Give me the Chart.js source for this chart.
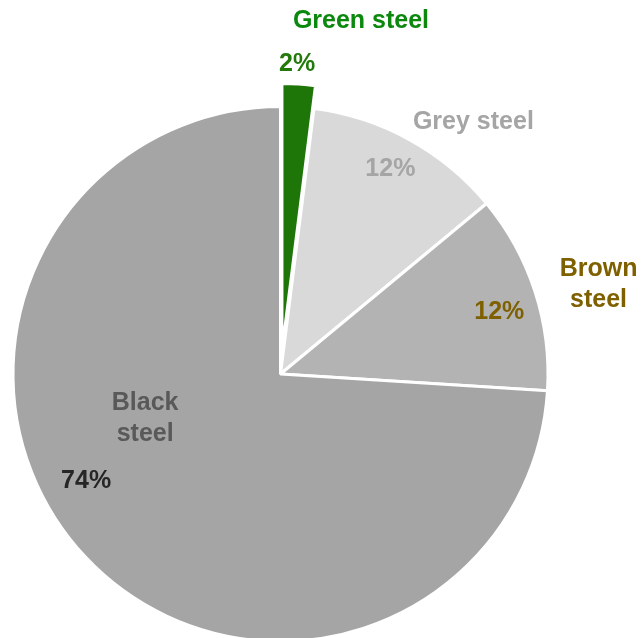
<!DOCTYPE html>
<html>
<head>
<meta charset="utf-8">
<title>Steel production by type</title>
<script src="https://cdn.jsdelivr.net/npm/chart.js@4/dist/chart.umd.min.js"></script>
<style>
  html, body { margin: 0; padding: 0; background: #fff; overflow: hidden; }
  #wrap { position: absolute; left: 0; top: 0; width: 642px; height: 748px; }
</style>
</head>
<body>
<div id="wrap"><canvas id="pie" width="642" height="748"></canvas></div>
<script>
// shares of steel output, clockwise from 12 o'clock
const categories = ['Green steel', 'Grey steel', 'Brown steel', 'Black steel'];
const shares = [2, 12, 12, 74];
const nameLines = [['Green steel'], ['Grey steel'], ['Brown', 'steel'], ['Black', 'steel']];

const sliceColors = ['#1f7608', '#d9d9d9', '#b3b3b3', '#a5a5a5'];
const nameColors = ['#0b880d', '#a5a5a5', '#7f6000', '#595959'];
const pctColors = ['#237a0b', '#a5a5a5', '#7f6000', '#262626'];

// pulled-out distance of each slice (px)
const explode = [23, 0, 0, 0];

// label placement: radius (px) and angle shift (deg) from the slice middle
const pctPos = [[289, -0.6], [234, -0.8], [228, 1.7], [221, 14.8]];
const namePos = [[341, 9.8], [319, 8.4], [331, 1.9], [142, 25.6]];

const FONT = 'bold 25px "Liberation Sans", Arial, sans-serif';
const LINE_H = 31;

const explodePlugin = {
  id: 'explodeSlices',
  beforeDatasetsDraw(chart) {
    const area = chart.chartArea;
    const cx = (area.left + area.right) / 2;
    const cy = (area.top + area.bottom) / 2;
    chart.getDatasetMeta(0).data.forEach((arc, i) => {
      const mid = (arc.startAngle + arc.endAngle) / 2;
      arc.x = cx + Math.cos(mid) * explode[i];
      arc.y = cy + Math.sin(mid) * explode[i];
    });
  }
};

const labelPlugin = {
  id: 'sliceLabels',
  afterDatasetsDraw(chart) {
    const ctx = chart.ctx;
    ctx.save();
    ctx.font = FONT;
    ctx.textAlign = 'center';
    ctx.textBaseline = 'alphabetic';
    const capShift = 9;
    chart.getDatasetMeta(0).data.forEach((arc, i) => {
      const mid = (arc.startAngle + arc.endAngle) / 2;
      const place = (p) => {
        const a = mid + p[1] * Math.PI / 180;
        return { x: arc.x + Math.cos(a) * p[0], y: arc.y + Math.sin(a) * p[0] };
      };
      // percentage
      const pp = place(pctPos[i]);
      ctx.fillStyle = pctColors[i];
      ctx.fillText(shares[i] + '%', pp.x, pp.y + capShift);
      // category name, possibly on two lines
      const np = place(namePos[i]);
      const lines = nameLines[i];
      const top = np.y - (lines.length - 1) * LINE_H / 2;
      ctx.fillStyle = nameColors[i];
      lines.forEach((t, k) => ctx.fillText(t, np.x, top + k * LINE_H + capShift));
    });
    ctx.restore();
  }
};

new Chart(document.getElementById('pie'), {
  type: 'pie',
  data: {
    labels: categories,
    datasets: [{
      data: shares,
      backgroundColor: sliceColors,
      borderColor: '#ffffff',
      borderWidth: 3
    }]
  },
  options: {
    responsive: false,
    animation: false,
    radius: 267.5,
    // pie sits in the left 561px; the right strip holds outside labels
    layout: { padding: { left: 0, top: 0, bottom: 0, right: 81 } },
    plugins: {
      legend: { display: false },
      tooltip: { enabled: false }
    }
  },
  plugins: [explodePlugin, labelPlugin]
});
</script>
</body>
</html>
